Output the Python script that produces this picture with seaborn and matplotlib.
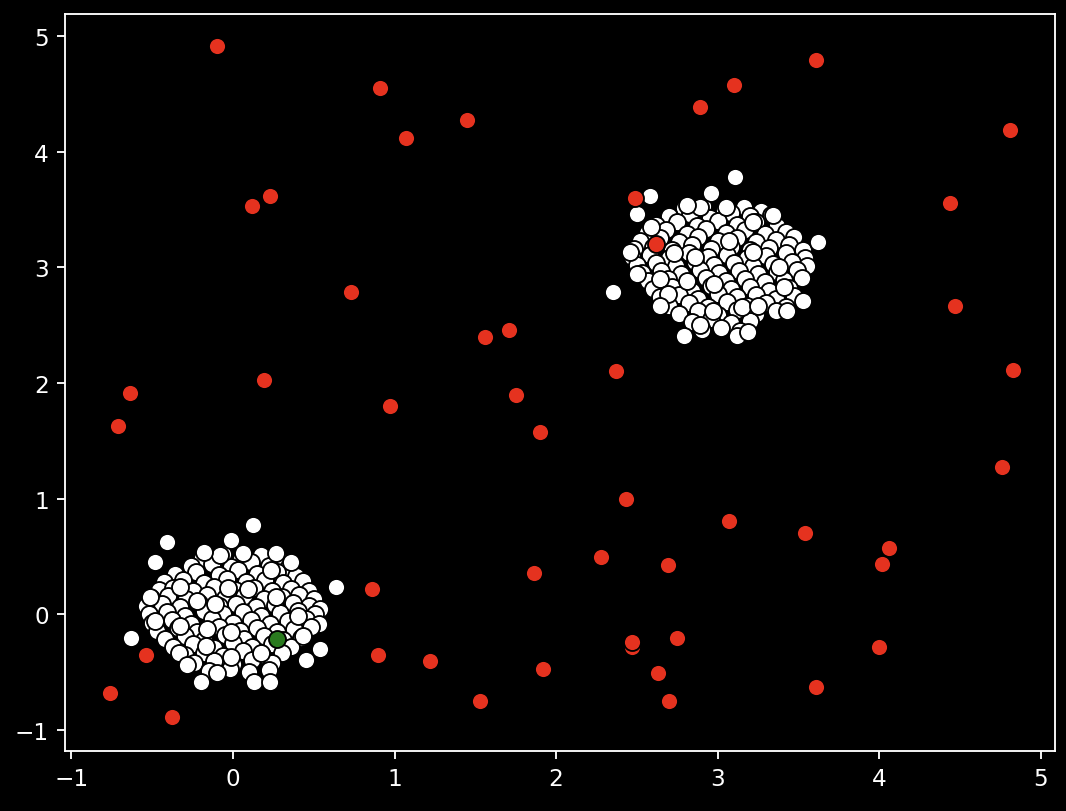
import numpy as np
import pandas as pd
import matplotlib.pyplot as plt
import seaborn as sns

# cluster around the origin (white points)
cluster_a = [
    (-0.19, 0.49), (-0.06, 0.52), (0.05, 0.48), (0.17, 0.51), (0.29, 0.47),
    (-0.26, 0.42), (-0.13, 0.44), (-0.01, 0.41), (0.11, 0.45), (0.22, 0.42), (0.34, 0.40),
    (-0.36, 0.35), (-0.23, 0.37), (-0.09, 0.34), (0.03, 0.38), (0.15, 0.35), (0.27, 0.37), (0.39, 0.33),
    (-0.43, 0.28), (-0.31, 0.30), (-0.18, 0.27), (-0.04, 0.31), (0.08, 0.28), (0.20, 0.30), (0.31, 0.27), (0.43, 0.29),
    (-0.46, 0.21), (-0.37, 0.23), (-0.25, 0.20), (-0.12, 0.24), (0.01, 0.21), (0.13, 0.23), (0.24, 0.20), (0.36, 0.22), (0.47, 0.20),
    (-0.51, 0.14), (-0.40, 0.16), (-0.29, 0.13), (-0.16, 0.17), (-0.05, 0.14), (0.07, 0.16), (0.19, 0.13), (0.30, 0.15), (0.41, 0.17), (0.50, 0.13),
    (-0.54, 0.07), (-0.44, 0.09), (-0.33, 0.06), (-0.21, 0.10), (-0.09, 0.07), (0.02, 0.09), (0.14, 0.06), (0.26, 0.08), (0.37, 0.10), (0.47, 0.07), (0.54, 0.05),
    (-0.52, 0.00), (-0.41, 0.02), (-0.30, -0.01), (-0.18, 0.03), (-0.06, 0.00), (0.06, 0.02), (0.17, -0.01), (0.29, 0.01), (0.40, 0.03), (0.51, 0.00),
    (-0.50, -0.07), (-0.38, -0.05), (-0.26, -0.08), (-0.13, -0.04), (0.00, -0.07), (0.11, -0.05), (0.23, -0.08), (0.34, -0.06), (0.45, -0.04), (0.53, -0.08),
    (-0.47, -0.14), (-0.34, -0.12), (-0.22, -0.15), (-0.09, -0.11), (0.04, -0.14), (0.15, -0.12), (0.27, -0.15), (0.38, -0.13), (0.48, -0.11),
    (-0.42, -0.21), (-0.30, -0.19), (-0.18, -0.22), (-0.05, -0.18), (0.07, -0.21), (0.19, -0.19), (0.31, -0.22), (0.42, -0.20),
    (-0.37, -0.28), (-0.25, -0.26), (-0.12, -0.29), (0.00, -0.25), (0.12, -0.28), (0.24, -0.26), (0.36, -0.28),
    (-0.30, -0.35), (-0.18, -0.33), (-0.06, -0.36), (0.06, -0.32), (0.18, -0.35), (0.30, -0.33),
    (-0.24, -0.42), (-0.12, -0.40), (0.00, -0.43), (0.12, -0.39), (0.24, -0.42),
    (-0.15, -0.49), (-0.02, -0.47), (0.10, -0.50), (0.22, -0.48),
    # outer / top-layer points
    (0.125, 0.77), (-0.41, 0.63), (-0.01, 0.645), (-0.48, 0.455), (0.635, 0.235), (-0.63, -0.20),
    (-0.20, -0.58), (-0.10, -0.51), (0.13, -0.58), (0.23, -0.58), (0.45, -0.39), (0.54, -0.30),
    (0.435, -0.185), (-0.515, 0.15), (-0.48, -0.06), (-0.33, 0.24), (0.36, 0.455), (0.265, 0.53),
    (0.063, 0.527), (-0.08, 0.51), (-0.18, 0.54), (0.236, 0.386), (0.09, 0.22), (-0.03, 0.23),
    (-0.11, 0.09), (-0.22, 0.12), (0.265, 0.15), (0.40, -0.01), (-0.16, -0.13), (-0.015, -0.15),
    (-0.33, -0.10), (-0.17, -0.27), (-0.015, -0.37), (0.17, -0.33), (-0.335, -0.33), (-0.285, -0.44),
]

# cluster around (3, 3)
cluster_b = [
    (2.79, 3.51), (2.91, 3.53), (3.04, 3.50), (3.16, 3.52), (3.27, 3.49),
    (2.70, 3.44), (2.83, 3.46), (2.95, 3.43), (3.08, 3.47), (3.20, 3.44), (3.33, 3.45),
    (2.62, 3.37), (2.75, 3.39), (2.87, 3.36), (3.00, 3.40), (3.12, 3.37), (3.24, 3.39), (3.37, 3.36),
    (2.56, 3.30), (2.68, 3.32), (2.81, 3.29), (2.93, 3.33), (3.05, 3.30), (3.17, 3.32), (3.29, 3.29), (3.42, 3.31),
    (2.52, 3.23), (2.64, 3.25), (2.76, 3.22), (2.88, 3.26), (3.00, 3.23), (3.12, 3.25), (3.24, 3.22), (3.36, 3.24), (3.47, 3.26),
    (2.48, 3.16), (2.60, 3.18), (2.72, 3.15), (2.84, 3.19), (2.96, 3.16), (3.08, 3.18), (3.20, 3.15), (3.32, 3.17), (3.44, 3.19), (3.53, 3.15),
    (2.47, 3.09), (2.58, 3.11), (2.70, 3.08), (2.82, 3.12), (2.94, 3.09), (3.06, 3.11), (3.18, 3.08), (3.30, 3.10), (3.42, 3.12), (3.54, 3.08),
    (2.50, 3.02), (2.62, 3.04), (2.74, 3.01), (2.86, 3.05), (2.98, 3.02), (3.10, 3.04), (3.22, 3.01), (3.34, 3.03), (3.46, 3.05), (3.55, 3.01),
    (2.53, 2.95), (2.65, 2.97), (2.77, 2.94), (2.89, 2.98), (3.01, 2.95), (3.13, 2.97), (3.25, 2.94), (3.37, 2.96), (3.49, 2.98),
    (2.57, 2.88), (2.69, 2.90), (2.81, 2.87), (2.93, 2.91), (3.05, 2.88), (3.17, 2.90), (3.29, 2.87), (3.41, 2.89), (3.52, 2.91),
    (2.60, 2.81), (2.72, 2.83), (2.84, 2.80), (2.96, 2.84), (3.08, 2.81), (3.20, 2.83), (3.32, 2.80), (3.44, 2.82),
    (2.64, 2.74), (2.76, 2.76), (2.88, 2.73), (3.00, 2.77), (3.12, 2.74), (3.24, 2.76), (3.36, 2.73), (3.47, 2.75),
    (2.70, 2.67), (2.82, 2.69), (2.94, 2.66), (3.06, 2.70), (3.18, 2.67), (3.30, 2.69), (3.42, 2.66),
    (2.76, 2.60), (2.88, 2.62), (3.00, 2.59), (3.12, 2.63), (3.24, 2.60), (3.36, 2.62),
    (2.84, 2.53), (2.96, 2.55), (3.08, 2.52), (3.20, 2.54),
    (2.90, 2.46), (3.02, 2.48), (3.14, 2.45),
    # outer / top-layer points
    (3.11, 3.78), (2.58, 3.62), (2.50, 3.46), (2.96, 3.64), (3.62, 3.22), (2.35, 2.79),
    (2.79, 2.41), (3.12, 2.41), (3.19, 2.44), (3.43, 2.62), (3.53, 2.71), (2.59, 3.35),
    (2.46, 3.13), (2.50, 2.94), (2.64, 2.90), (2.69, 2.77), (2.64, 2.67), (2.89, 2.50),
    (2.97, 2.62), (2.81, 2.88), (2.98, 2.86), (3.15, 2.66), (3.25, 2.67), (3.41, 2.83),
    (3.38, 3.00), (3.22, 3.13), (3.22, 3.39), (3.34, 3.45), (3.05, 3.52), (2.89, 3.52),
    (2.81, 3.54), (3.07, 3.23), (2.86, 3.09), (2.73, 3.12),
]

# scattered red outliers
outliers_x = [-0.10, 0.91, 1.07, 1.45, 0.12, 0.23, 0.73, 1.56, 1.71, 1.75,
              1.90, 0.97, 0.19, -0.64, -0.71, 2.89, 3.10, 3.61, 4.81, 4.44,
              2.49, 2.62, 4.47, 4.83, 2.37, 4.76, 2.43, 3.07, 3.54, 4.06,
              4.02, 2.28, 1.86, 2.69, 0.86, 2.47, 2.47, 2.75, 2.63, 2.70,
              4.00, 3.61, 1.92, 1.53, 1.22, 0.90, -0.54, -0.76, -0.38]
outliers_y = [4.91, 4.55, 4.12, 4.27, 3.53, 3.62, 2.79, 2.40, 2.46, 1.90,
              1.58, 1.80, 2.03, 1.91, 1.63, 4.39, 4.58, 4.79, 4.19, 3.56,
              3.60, 3.20, 2.67, 2.11, 2.10, 1.27, 1.00, 0.81, 0.70, 0.57,
              0.44, 0.50, 0.36, 0.43, 0.22, -0.28, -0.24, -0.20, -0.51, -0.75,
              -0.28, -0.63, -0.47, -0.75, -0.40, -0.35, -0.35, -0.68, -0.89]

# single highlighted point
highlight_x = [0.27]
highlight_y = [-0.21]

white_df = pd.DataFrame(cluster_a + cluster_b, columns=['x', 'y'])
red_df = pd.DataFrame({'x': outliers_x, 'y': outliers_y})
green_df = pd.DataFrame({'x': highlight_x, 'y': highlight_y})

plt.style.use('dark_background')

fig = plt.figure(figsize=(6.4, 4.875), dpi=166.5625)
ax = fig.add_axes([0.061, 0.074, 0.929, 0.9075])

marker_kw = dict(edgecolor='black', s=54, linewidth=0.8, ax=ax)
sns.scatterplot(data=white_df, x='x', y='y', color='white', **marker_kw)
sns.scatterplot(data=red_df, x='x', y='y', color='#e5321f', **marker_kw)
sns.scatterplot(data=green_df, x='x', y='y', color='#2a7a1f', **marker_kw)

ax.set_xlim(-1.04, 5.09)
ax.set_ylim(-1.18, 5.19)
ax.set_xlabel('')
ax.set_ylabel('')

fig.savefig('out.png', dpi=166.5625, facecolor='black')
